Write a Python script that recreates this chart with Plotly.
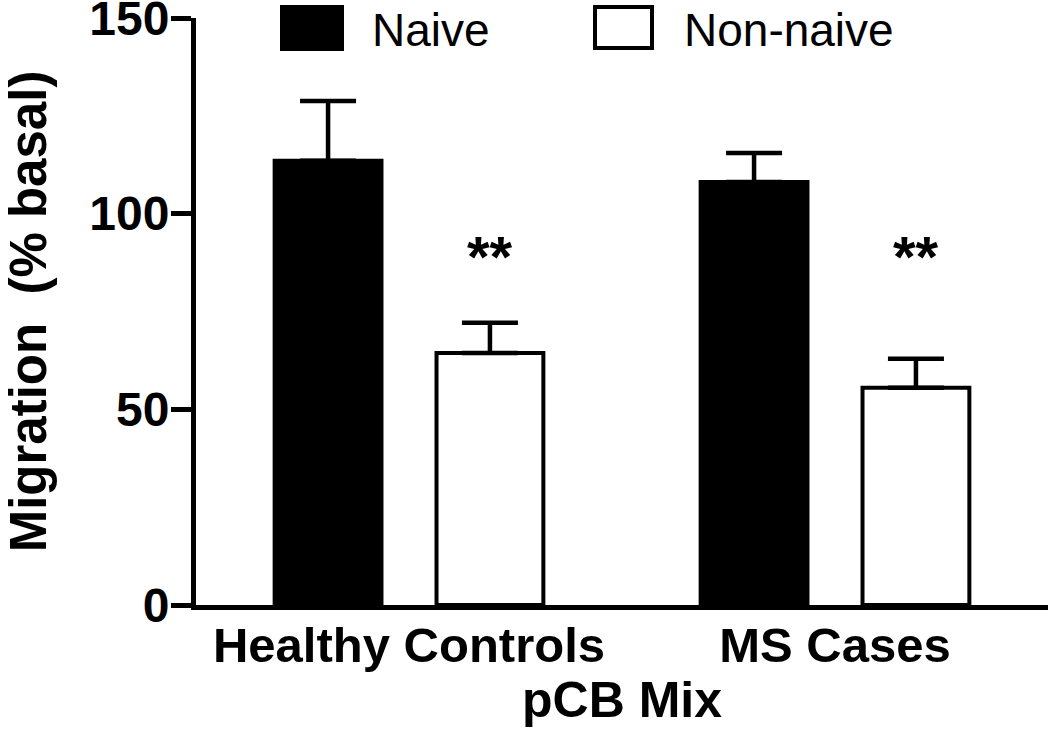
import plotly.graph_objects as go

# ---- data ----
categories = ["Healthy Controls", "MS Cases"]
naive_mean = [113.5, 108.1]
naive_err = [15.3, 7.4]
nonnaive_mean = [64.4, 55.5]
nonnaive_err = [7.7, 7.4]
sig_labels = ["**", "**"]
sig_level = [89, 89]
y_ticks = [0, 50, 100, 150]

FONT = "Arial, Liberation Sans, Helvetica, sans-serif"
BARGAP = 0.24
BARGROUPGAP = 0.34

W, H = 1050, 734
L, R, T, B = 196, 1048, 18, 605

fig = go.Figure()
fig.add_trace(go.Bar(
    x=categories, y=naive_mean, name="Naive",
    marker=dict(color="black", line=dict(color="black", width=4)),
    error_y=dict(type="data", symmetric=False, array=naive_err,
                 arrayminus=[0] * len(naive_err),
                 color="black", thickness=4.5, width=28),
))
fig.add_trace(go.Bar(
    x=categories, y=nonnaive_mean, name="Non-naive",
    marker=dict(color="white", line=dict(color="black", width=4)),
    error_y=dict(type="data", symmetric=False, array=nonnaive_err,
                 arrayminus=[0] * len(nonnaive_err),
                 color="black", thickness=4.5, width=28),
))

# significance stars above the non-naive bars
offset = (1 - BARGAP) / 4.0
for i, (lab, lev) in enumerate(zip(sig_labels, sig_level)):
    fig.add_annotation(x=i + offset, y=lev, xref="x", yref="y", text="<b>" + lab + "</b>",
                       showarrow=False,
                       font=dict(family=FONT, size=58, color="black"),
                       xanchor="center", yanchor="middle")

# legend drawn manually (large square keys); arguments are page pixels
def px_x(p):
    return (p - L) / (R - L)
def px_y(p):
    return (B - p) / (B - T)

fig.add_shape(type="rect", xref="paper", yref="paper",
              x0=px_x(280), x1=px_x(344), y0=px_y(51), y1=px_y(5),
              fillcolor="black", line=dict(color="black", width=0))
fig.add_shape(type="rect", xref="paper", yref="paper",
              x0=px_x(595), x1=px_x(652), y0=px_y(48), y1=px_y(7),
              fillcolor="white", line=dict(color="black", width=4))
fig.add_annotation(xref="paper", yref="paper", x=px_x(370), y=px_y(30),
                   text="Naive", showarrow=False, xanchor="left", yanchor="middle",
                   font=dict(family=FONT, size=46, color="black"))
fig.add_annotation(xref="paper", yref="paper", x=px_x(682), y=px_y(30),
                   text="Non-naive", showarrow=False, xanchor="left", yanchor="middle",
                   font=dict(family=FONT, size=46, color="black"))

fig.update_layout(
    width=W, height=H,
    margin=dict(l=L, r=W - R, t=T, b=H - B, autoexpand=False),
    paper_bgcolor="white", plot_bgcolor="white",
    barmode="group", bargap=BARGAP, bargroupgap=BARGROUPGAP,
    showlegend=False,
    font=dict(family=FONT, color="black"),
)
fig.update_xaxes(
    automargin=False,
    showline=True, linecolor="black", linewidth=5, ticks="",
    showgrid=False, zeroline=False,
    tickfont=dict(family=FONT, size=49, color="black", weight="bold"),
    ticklabelstandoff=-7,
    title=dict(text="<b>pCB Mix</b>", font=dict(family=FONT, size=50, color="black"),
               standoff=11),
)
fig.update_yaxes(
    automargin=False, ticklabeloverflow="allow",
    range=[0, 150], tickvals=y_ticks, ticktext=[str(t) for t in y_ticks],
    showline=True, linecolor="black", linewidth=5,
    ticks="outside", ticklen=20, tickwidth=5, tickcolor="black",
    showgrid=False, zeroline=False,
    ticklabelstandoff=-8,
    tickfont=dict(family=FONT, size=48, color="black", weight="bold"),
    title=dict(text="<b>Migration\u00a0 (% basal)</b>",
               font=dict(family=FONT, size=51, color="black"), standoff=49),
)

fig.write_html(
    "out.html",
    config={"displayModeBar": False},
    post_script="document.body.style.margin='0';document.body.style.overflow='hidden';",
)
